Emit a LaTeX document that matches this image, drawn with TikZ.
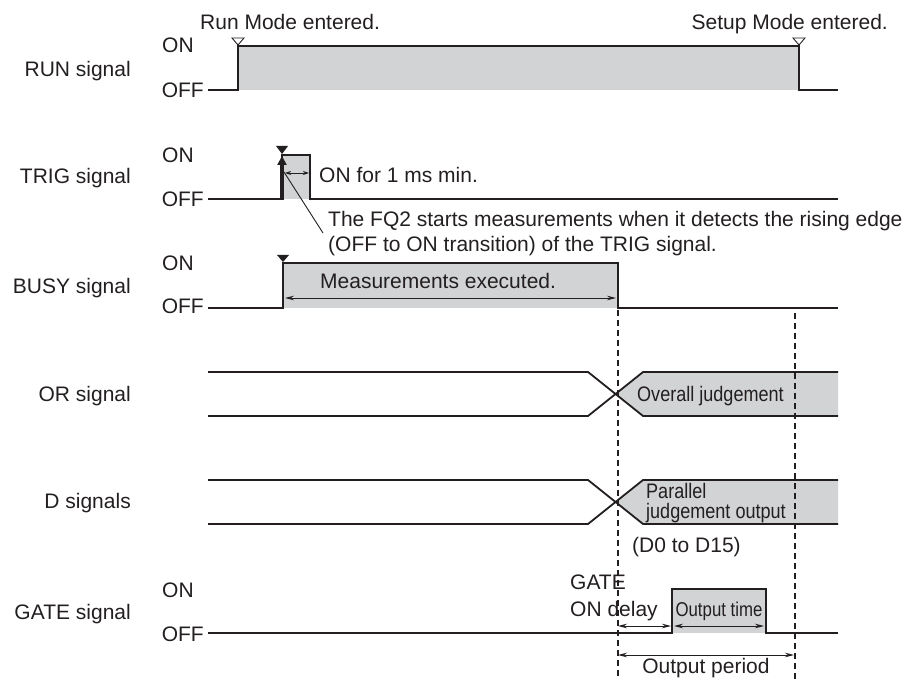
\documentclass[tikz,border=0pt]{standalone}
\usepackage{fontspec}
\setmainfont{Liberation Sans}
\usetikzlibrary{arrows.meta}
\definecolor{ink}{HTML}{231F20}
\definecolor{sigfill}{HTML}{D1D3D4}
\begin{document}
\begin{tikzpicture}[x=1pt,y=-1pt,
  sig/.style={line width=1.8pt, draw=ink, line join=miter},
  lbl/.style={font=\fontsize{21}{25}\selectfont, text=ink, inner sep=0pt},
  cond/.style={font=\fontsize{21}{25}\selectfont, text=ink, inner sep=0pt, xscale=0.86},
  dim/.style={line width=0.9pt, draw=ink, {Stealth[length=9pt,width=4.5pt]}-{Stealth[length=9pt,width=4.5pt]}},
  smalldim/.style={line width=0.9pt, draw=ink, {Stealth[length=6pt,width=4pt]}-{Stealth[length=6pt,width=4pt]}},
  guide/.style={line width=1.1pt, draw=ink, dash pattern=on 6pt off 4pt},
  thin/.style={line width=0.9pt, draw=ink}]
\useasboundingbox (0,0) rectangle (914,679);

% ---------- left labels ----------
\node[lbl, anchor=base east] (lrun)  at (131,77)  {RUN signal};
\node[lbl, anchor=base east] (ltrig) at (131,184) {TRIG signal};
\node[lbl, anchor=base east] (lbusy) at (131,294) {BUSY signal};
\node[lbl, anchor=base east] (lor)   at (131,402) {OR signal};
\node[lbl, anchor=base east] (ld)    at (131,508) {D signals};
\node[lbl, anchor=base east] (lgate) at (131,619) {GATE signal};

\node[lbl, anchor=base west] (on1)  at (162,53)  {ON};
\node[lbl, anchor=base east] (off1) at (204,98)  {OFF};
\node[lbl, anchor=base west] (on2)  at (162,163) {ON};
\node[lbl, anchor=base east] (off2) at (204,207) {OFF};
\node[lbl, anchor=base west] (on3)  at (162,271) {ON};
\node[lbl, anchor=base east] (off3) at (204,314) {OFF};
\node[lbl, anchor=base west] (on6)  at (162,597) {ON};
\node[lbl, anchor=base east] (off6) at (204,641) {OFF};

% ---------- RUN ----------
\fill[sigfill] (238,46) rectangle (799,90);
\draw[sig] (208,90) -- (238,90) -- (238,46) -- (799,46) -- (799,90) -- (838,90);
\draw[thin, fill=white] (232,38) -- (244,38) -- (238,45) -- cycle;
\draw[thin, fill=white] (793,38) -- (805,38) -- (799,45) -- cycle;
\node[lbl, anchor=base west] (runtxt) at (200,30) {Run Mode entered.};
\node[lbl, anchor=base east] (setuptxt) at (888,30) {Setup Mode entered.};

% ---------- TRIG ----------
\fill[sigfill] (282,155) rectangle (310,199);
\draw[sig] (208,199) -- (282,199) -- (282,155) -- (310,155) -- (310,199) -- (838,199);
\draw[ink, line width=3.6pt, -{Triangle[length=9pt,width=9pt]}] (282,200) -- (282,156);
\fill[ink] (276,146) -- (288,146) -- (282,154) -- cycle;
\draw[smalldim] (285,173) -- (309,173);
\node[lbl, anchor=base west] (ontxt) at (319,183) {ON for 1 ms min.};
\coordinate (leadA) at (284,172);
\coordinate (leadB) at (323,233);
\draw[thin] (leadA) -- (leadB);
\node[lbl, anchor=base west] (fq1) at (328,227) {The FQ2 starts measurements when it detects the rising edge};
\node[lbl, anchor=base west] (fq2) at (328,252) {(OFF to ON transition) of the TRIG signal.};

% ---------- BUSY ----------
\fill[sigfill] (283,263) rectangle (618,308);
\draw[sig] (208,308) -- (283,308) -- (283,263) -- (618,263) -- (618,308) -- (838,308);
\fill[ink] (277,255) -- (289,255) -- (283,262) -- cycle;
\draw[dim] (285,298) -- (616,298);
\node[lbl, anchor=base west] (meas) at (320,289) {Measurements executed.};

% ---------- OR ----------
\fill[sigfill] (615.5,394) -- (643,372) -- (838,372) -- (838,416) -- (643,416) -- cycle;
\draw[sig] (208,372) -- (588,372) -- (643,416) -- (838,416);
\draw[sig] (208,416) -- (588,416) -- (643,372) -- (838,372);
\node[cond, anchor=base west] (overall) at (637,402) {Overall judgement};

% ---------- D ----------
\fill[sigfill] (615.5,502) -- (643,480) -- (838,480) -- (838,524) -- (643,524) -- cycle;
\draw[sig] (208,480) -- (588,480) -- (643,524) -- (838,524);
\draw[sig] (208,524) -- (588,524) -- (643,480) -- (838,480);
\node[cond, anchor=base west] (par1) at (646,498) {Parallel};
\node[cond, anchor=base west] (par2) at (646,518) {judgement output};
\node[lbl, anchor=base west] (d015) at (632,552) {(D0 to D15)};

% ---------- guides ----------
\draw[guide] (618,310) -- (618,679);
\draw[guide] (795,313) -- (795,679);

% ---------- GATE ----------
\fill[sigfill] (672,589) rectangle (766,633);
\draw[sig] (208,633) -- (672,633) -- (672,589) -- (766,589) -- (766,633) -- (838,633);
\node[lbl, anchor=base west] (gate1) at (570,589) {GATE};
\node[lbl, anchor=base west] (gate2) at (570,616) {ON delay};
\node[font=\fontsize{20}{24}\selectfont, text=ink, inner sep=0pt, xscale=0.84, anchor=base] (outtime) at (719,616) {Output time};
\draw[dim] (618,626) -- (671,626);
\draw[dim] (674,626) -- (764,626);
\draw[dim] (618,655) -- (794,655);
\node[lbl, anchor=base] (outper) at (706,673) {Output period};
\end{tikzpicture}
\end{document}
